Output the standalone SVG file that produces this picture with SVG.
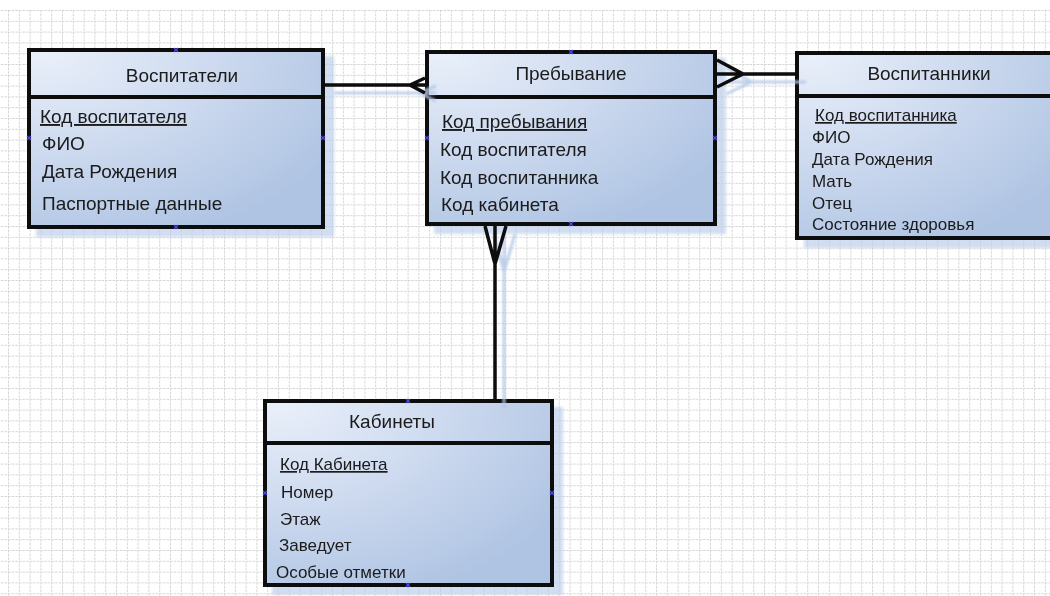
<svg xmlns="http://www.w3.org/2000/svg" width="1050" height="596" viewBox="0 0 1050 596">
<defs>
<pattern id="grid" x="8" y="10" width="10.8" height="10.8" patternUnits="userSpaceOnUse">
<path d="M0 0.5 H10.8 M0.5 0 V10.8" fill="none" stroke="#d4d4d4" stroke-width="1" stroke-dasharray="2.5 1.2"/>
</pattern>
<radialGradient id="fill" cx="0.05" cy="0" r="1.15" gradientUnits="objectBoundingBox">
<stop offset="0" stop-color="#eaf0fa"/>
<stop offset="0.45" stop-color="#d0dcf0"/>
<stop offset="1" stop-color="#afc4e3"/>
</radialGradient>
<filter id="sh" x="-10%" y="-10%" width="130%" height="130%">
<feOffset in="SourceAlpha" dx="9" dy="8" result="o"/>
<feGaussianBlur in="o" stdDeviation="1.5" result="b"/>
<feFlood flood-color="#bccee9" flood-opacity="0.7"/>
<feComposite in2="b" operator="in" result="s"/>
<feMerge><feMergeNode in="s"/><feMergeNode in="SourceGraphic"/></feMerge>
</filter>
<filter id="blur" x="-20%" y="-20%" width="140%" height="140%"><feGaussianBlur stdDeviation="1.2"/></filter>
</defs>
<style>
.box{fill:url(#fill);stroke:#0d0d0d;stroke-width:4}
.div{stroke:#0d0d0d;stroke-width:4}
.band{stroke:#a9bfe3;stroke-width:3;opacity:0.75;filter:url(#blur)}
.t{font-family:"Liberation Sans",Arial,sans-serif;fill:#1a1a1a}
.ti{font-size:19px;text-anchor:middle}
.i19{font-size:19px}
.i17{font-size:17px}
.u{text-decoration:underline}
.con{fill:none;stroke:#0d0d0d;stroke-width:3.5;stroke-linejoin:miter}
.csh{fill:none;stroke:#b5c8e8;stroke-width:3;opacity:0.85;filter:url(#blur)}
.cp{stroke:#4a4af2;stroke-width:1.2}
</style>
<rect width="1050" height="596" fill="#ffffff"/>
<rect x="0" y="10" width="1050" height="586" fill="url(#grid)"/>

<g id="vospitateli" filter="url(#sh)">
<rect class="box" x="29" y="50" width="294" height="177"/>
<line class="band" x1="33" y1="104" x2="333" y2="104"/>
<line class="div" x1="27" y1="97" x2="323" y2="97"/>
<text class="t ti" x="182" y="82">Воспитатели</text>
<text class="t i19 u" x="40" y="123">Код воспитателя</text>
<text class="t i19" x="42" y="150">ФИО</text>
<text class="t i19" x="42" y="178">Дата Рождения</text>
<text class="t i19" x="42" y="210">Паспортные данные</text>
<path class="cp" d="M174 48 l4 4 m0 -4 l-4 4 M174 225 l4 4 m0 -4 l-4 4 M27 136 l4 4 m0 -4 l-4 4 M321 136 l4 4 m0 -4 l-4 4"/>
</g>

<g id="prebyvanie" filter="url(#sh)">
<rect class="box" x="427" y="52" width="288" height="172"/>
<line class="band" x1="431" y1="105" x2="725" y2="105"/>
<line class="div" x1="427" y1="97" x2="715" y2="97"/>
<text class="t ti" x="571" y="80">Пребывание</text>
<text class="t i19 u" x="442" y="128">Код пребывания</text>
<text class="t i19" x="440" y="156">Код воспитателя</text>
<text class="t i19" x="440" y="184">Код воспитанника</text>
<text class="t i19" x="441" y="211">Код кабинета</text>
<path class="cp" d="M569 50 l4 4 m0 -4 l-4 4 M569 222 l4 4 m0 -4 l-4 4 M425 136 l4 4 m0 -4 l-4 4 M713 136 l4 4 m0 -4 l-4 4"/>
</g>

<g id="vospitanniki" filter="url(#sh)">
<rect class="box" x="797" y="53" width="270" height="185"/>
<line class="band" x1="801" y1="103" x2="1060" y2="103"/>
<line class="div" x1="797" y1="96" x2="1067" y2="96"/>
<text class="t ti" x="929" y="80">Воспитанники</text>
<text class="t i17 u" x="815" y="121">Код воспитанника</text>
<text class="t i17" x="812" y="143">ФИО</text>
<text class="t i17" x="812" y="165">Дата Рождения</text>
<text class="t i17" x="812" y="187">Мать</text>
<text class="t i17" x="812" y="209">Отец</text>
<text class="t i17" x="812" y="230">Состояние здоровья</text>
</g>

<g id="kabinety" filter="url(#sh)">
<rect class="box" x="265" y="401" width="287" height="184"/>
<line class="band" x1="272" y1="452" x2="561" y2="452"/>
<line class="div" x1="265" y1="443" x2="552" y2="443"/>
<text class="t ti" x="392" y="428">Кабинеты</text>
<text class="t i17 u" x="280" y="470">Код Кабинета</text>
<text class="t i17" x="281" y="498">Номер</text>
<text class="t i17" x="280" y="525">Этаж</text>
<text class="t i17" x="279" y="551">Заведует</text>
<text class="t i17" x="276" y="578">Особые отметки</text>
<path class="cp" d="M406 399 l4 4 m0 -4 l-4 4 M406 583 l4 4 m0 -4 l-4 4 M263 491 l4 4 m0 -4 l-4 4 M550 491 l4 4 m0 -4 l-4 4"/>
</g>

<g id="connectors">
<g transform="translate(9,8)">
<path class="csh" d="M325 85 H427 M427 78 L410 85 L427 93"/>
<path class="csh" d="M717 74 H797 M717 60 L743 74 L717 86"/>
<path class="csh" d="M495 226 V401 M485 226 L495 264 L506 226"/>
</g>
<path class="con" d="M325 85 H425 M425 78 L410 85 L425 93"/>
<path class="con" d="M717 74 H795 M717 60 L743 74 L717 87"/>
<path class="con" d="M495 226 V399 M485 226 L495 264 L506 226"/>
</g>
</svg>
